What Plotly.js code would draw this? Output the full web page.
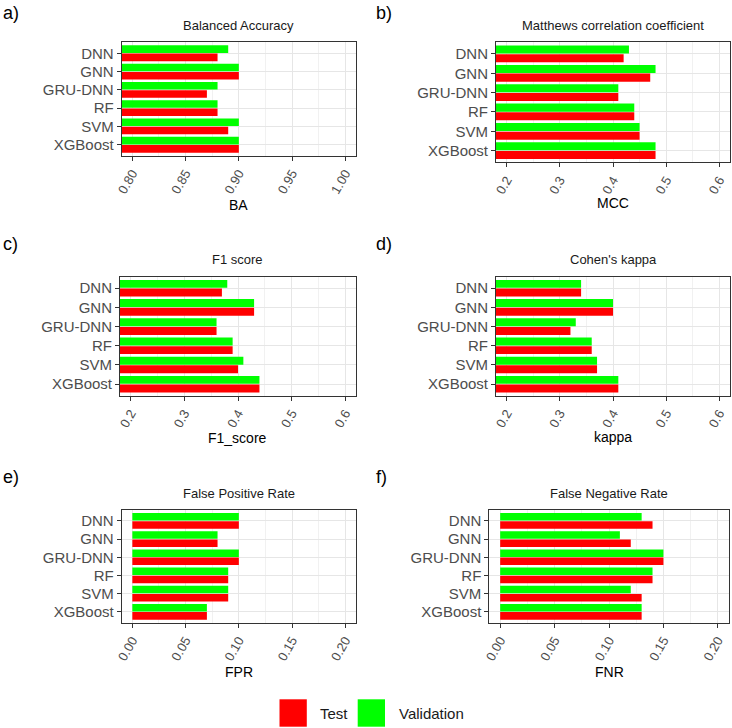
<!DOCTYPE html>
<html>
<head>
<meta charset="utf-8">
<script src="https://cdn.plot.ly/plotly-3.0.1.min.js"></script>
<style>html,body{margin:0;padding:0;background:#fff;}#chart{width:732px;height:728px;}</style>
</head>
<body>
<div id="chart"></div>
<script>
// ---- data ----
const categories = ['DNN', 'GNN', 'GRU-DNN', 'RF', 'SVM', 'XGBoost'];
const seriesNames = ['Test', 'Validation'];
const baTest = [0.88, 0.90, 0.87, 0.88, 0.89, 0.90];
const baVal = [0.89, 0.90, 0.88, 0.88, 0.90, 0.90];
const mccTest = [0.42, 0.47, 0.41, 0.44, 0.45, 0.48];
const mccVal = [0.43, 0.48, 0.41, 0.44, 0.45, 0.48];
const f1Test = [0.37, 0.43, 0.36, 0.39, 0.40, 0.44];
const f1Val = [0.38, 0.43, 0.36, 0.39, 0.41, 0.44];
const kappaTest = [0.34, 0.40, 0.32, 0.36, 0.37, 0.41];
const kappaVal = [0.34, 0.40, 0.33, 0.36, 0.37, 0.41];
const fprTest = [0.10, 0.08, 0.10, 0.09, 0.09, 0.07];
const fprVal = [0.10, 0.08, 0.10, 0.09, 0.09, 0.07];
const fnrTest = [0.14, 0.12, 0.15, 0.14, 0.13, 0.13];
const fnrVal = [0.13, 0.11, 0.15, 0.14, 0.12, 0.13];
const panelLabels = ['a)', 'b)', 'c)', 'd)', 'e)', 'f)'];
const panelTitles = ['Balanced Accuracy', 'Matthews correlation coefficient', 'F1 score', "Cohen's kappa", 'False Positive Rate', 'False Negative Rate'];
const axisTitles = ['BA', 'MCC', 'F1_score', 'kappa', 'FPR', 'FNR'];

// ---- styling ----
const W = 732, H = 728;
const RED = '#FF0000', GREEN = '#00FF00';
const FONT = 'Liberation Sans, Arial, sans-serif';
const panels = [
  {test: baTest, val: baVal, box: [121.7, 356, 42.3, 155.7], range: [0.79, 1.01], dtick: 0.05, fmt: '.2f', titleY: 26, axY: 205, labY: 13, labX: 1},
  {test: mccTest, val: mccVal, box: [496, 730, 42.3, 162.3], range: [0.18, 0.62], dtick: 0.1, fmt: '.1f', titleY: 26, axY: 203, labY: 13, labX: 374},
  {test: f1Test, val: f1Val, box: [120, 356, 276.7, 395.7], range: [0.18, 0.62], dtick: 0.1, fmt: '.1f', titleY: 259, axY: 438, labY: 244, labX: 1},
  {test: kappaTest, val: kappaVal, box: [496, 730, 276.7, 395.7], range: [0.18, 0.62], dtick: 0.1, fmt: '.1f', titleY: 259, axY: 437, labY: 244, labX: 374},
  {test: fprTest, val: fprVal, box: [121.7, 356, 510, 622.7], range: [-0.01, 0.21], dtick: 0.05, fmt: '.2f', titleY: 493, axY: 672, labY: 477, labX: 1},
  {test: fnrTest, val: fnrVal, box: [489.3, 728.7, 510, 622.7], range: [-0.01, 0.21], dtick: 0.05, fmt: '.2f', titleY: 493, axY: 672, labY: 477, labX: 374}
];

const px = v => v / W;
const py = v => 1 - v / H;
const data = [];
const layout = {
  width: W, height: H,
  margin: {l: 0, r: 0, t: 0, b: 0},
  paper_bgcolor: '#fff', plot_bgcolor: '#fff',
  barmode: 'group', bargap: 0.1, bargroupgap: 0.08,
  showlegend: false,
  font: {family: FONT},
  annotations: [], shapes: []
};

panels.forEach((p, i) => {
  const n = i === 0 ? '' : String(i + 1);
  const xa = 'x' + n, ya = 'y' + n;
  data.push({type: 'bar', orientation: 'h', name: seriesNames[0], x: p.test, y: categories,
    xaxis: xa, yaxis: ya, marker: {color: RED}, hoverinfo: 'x+y'});
  data.push({type: 'bar', orientation: 'h', name: seriesNames[1], x: p.val, y: categories,
    xaxis: xa, yaxis: ya, marker: {color: GREEN}, hoverinfo: 'x+y'});
  const [x0, x1, y0, y1] = p.box;
  layout['xaxis' + n] = {
    domain: [px(x0), px(x1)], anchor: ya, range: p.range, tick0: 0, dtick: p.dtick,
    tickformat: p.fmt, tickangle: -60, ticks: 'outside', ticklen: 4, tickcolor: '#333333', tickwidth: 1,
    tickfont: {family: FONT, size: 13, color: '#4d4d4d'},
    showline: true, linecolor: '#333333', linewidth: 1, mirror: true,
    showgrid: true, gridcolor: '#E6E6E6', gridwidth: 1, zeroline: false,
    minor: {dtick: p.dtick / 2, tick0: 0, showgrid: true, gridcolor: '#EBEBEB', gridwidth: 0.7, ticks: ''},
    fixedrange: true
  };
  layout['yaxis' + n] = {
    domain: [py(y1), py(y0)], anchor: xa, type: 'category',
    categoryorder: 'array', categoryarray: categories.slice().reverse(),
    range: [-0.6, 5.6], ticks: 'outside', ticklen: 4, tickcolor: '#333333', tickwidth: 1,
    tickfont: {family: FONT, size: 15, color: '#4d4d4d'},
    showline: true, linecolor: '#333333', linewidth: 1, mirror: true,
    showgrid: true, gridcolor: '#E6E6E6', gridwidth: 1, zeroline: false, fixedrange: true
  };
  const cx = (x0 + x1) / 2;
  layout.annotations.push({xref: 'paper', yref: 'paper', x: px(cx), y: py(p.titleY), text: panelTitles[i],
    showarrow: false, xanchor: 'center', yanchor: 'middle', font: {family: FONT, size: 13, color: '#1a1a1a'}});
  layout.annotations.push({xref: 'paper', yref: 'paper', x: px(cx), y: py(p.axY), text: axisTitles[i],
    showarrow: false, xanchor: 'center', yanchor: 'middle', font: {family: FONT, size: 14, color: '#000'}});
  layout.annotations.push({xref: 'paper', yref: 'paper', x: px(p.labX), y: py(p.labY), text: panelLabels[i],
    showarrow: false, xanchor: 'left', yanchor: 'middle', font: {family: FONT, size: 18, color: '#000'}});
});

// ---- legend (drawn as keys + labels) ----
const legendKeys = [
  {color: RED, label: seriesNames[0], x0: 279.5, tx: 318},
  {color: GREEN, label: seriesNames[1], x0: 357.7, tx: 396.5}
];
legendKeys.forEach(k => {
  layout.shapes.push({type: 'rect', xref: 'paper', yref: 'paper', x0: px(k.x0), x1: px(k.x0 + 27.3),
    y0: py(726.7), y1: py(699.3), fillcolor: k.color, line: {width: 0}});
  layout.annotations.push({xref: 'paper', yref: 'paper', x: px(k.tx), y: py(713), text: k.label,
    showarrow: false, xanchor: 'left', yanchor: 'middle', font: {family: FONT, size: 15, color: '#1a1a1a'}});
});

Plotly.newPlot('chart', data, layout, {displayModeBar: false, staticPlot: true});
</script>
</body>
</html>
